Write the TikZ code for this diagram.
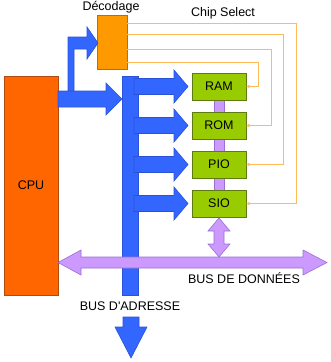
\documentclass[tikz,border=0pt]{standalone}
\usepackage{fontspec}
\usetikzlibrary{arrows.meta}
\newfontfamily\labelfont{Liberation Sans}
\definecolor{busblue}{HTML}{3366FF}
\definecolor{busblueline}{HTML}{2A52D6}
\definecolor{datapurple}{HTML}{CC99FF}
\definecolor{datapurpleline}{HTML}{9C6FD0}
\definecolor{cpuorange}{HTML}{FF6600}
\definecolor{cpuline}{HTML}{B04A10}
\definecolor{decorange}{HTML}{FF9900}
\definecolor{decline}{HTML}{B86E10}
\definecolor{memgreen}{HTML}{99CC00}
\definecolor{memline}{HTML}{5E7A10}
\definecolor{csline}{HTML}{FFBB55}
\begin{document}
\begin{tikzpicture}[x=1pt,y=-1pt,
  font=\labelfont\fontsize{12.5}{14}\selectfont,
  cpubox/.style={draw=cpuline,fill=cpuorange,line width=0.8pt,minimum width=54pt,minimum height=219pt,inner sep=0pt},
  decbox/.style={draw=decline,fill=decorange,line width=0.8pt,minimum width=30pt,minimum height=54pt,inner sep=0pt},
  membox/.style={draw=memline,fill=memgreen,line width=0.8pt,minimum width=54pt,minimum height=27pt,inner sep=0pt},
  bluearrow/.style={fill=busblue,draw=busblueline,line width=0.6pt,line join=miter},
  purplearrow/.style={fill=datapurple,draw=datapurpleline,line width=0.6pt,line join=miter},
  cswire/.style={draw=csline,line width=0.9pt,-{Stealth[length=3.5pt,width=3.5pt]}},
  lbl/.style={inner sep=0pt}]
\useasboundingbox (0,0) rectangle (330,362);

% boxes
\node[cpubox] (cpu) at (31,185.5) {CPU};
\node[decbox] (dec) at (112,42) {};
\node[lbl] (declbl) at (111,7) {Décodage};
\node[lbl] (cslbl) at (223,13) {Chip Select};

% address bus bar
\draw[bluearrow] (122,76) rectangle (138,295);
% branches to memories
\foreach \yc in {86.5,125.5,164.5,203.5}{
  \draw[bluearrow] (134,\yc-8) -- (174,\yc-8) -- (174,\yc-16.5) -- (188,\yc)
     -- (174,\yc+16.5) -- (174,\yc+8) -- (134,\yc+8) -- cycle;
}
% CPU to decoder L-arrow
\draw[bluearrow] (68,95) -- (68,37) -- (87,37) -- (87,27) -- (98,43) -- (87,59)
   -- (87,49) -- (74,49) -- (74,95) -- cycle;
% CPU to address bus arrow
\draw[bluearrow] (58,91) -- (106,91) -- (106,83) -- (122,99) -- (106,115)
   -- (106,107) -- (58,107) -- cycle;
% bottom address arrow
\draw[bluearrow] (123,317) -- (139,317) -- (139,327) -- (147,327) -- (131,358)
   -- (115,327) -- (123,327) -- cycle;
\node[lbl] (adrlbl) at (130,306) {BUS D'ADRESSE};

% purple link behind memory boxes
\draw[purplearrow] (214,90) rectangle (224,200);

% memories
\node[membox] (ram) at (219,86.5) {RAM};
\node[membox] (rom) at (219,125.5) {ROM};
\node[membox] (pio) at (219,164.5) {PIO};
\node[membox] (sio) at (219,203.5) {SIO};

% chip select wires
\path (dec.east) ++(0,-19) coordinate (cs1);
\path (dec.east) ++(0,-8) coordinate (cs2);
\path (dec.east) ++(0,7) coordinate (cs3);
\path (dec.east) ++(0,20) coordinate (cs4);
\draw[cswire] (cs1) -- (296,23) |- (sio.east);
\draw[cswire] (cs2) -- (283,34) |- (pio.east);
\draw[cswire] (cs3) -- (271,49) |- (rom.east);
\draw[cswire] (cs4) -- (258,62) |- (ram.east);

% SIO <-> data bus double arrow
\draw[purplearrow] (219,218) -- (230,231) -- (224,231) -- (224,244) -- (230,244)
   -- (219,257) -- (208,244) -- (214,244) -- (214,231) -- (208,231) -- cycle;

% data bus
\draw[purplearrow] (58,262.5) -- (81,250) -- (81,257) -- (303,257) -- (303,250)
   -- (327,262.5) -- (303,275) -- (303,268) -- (81,268) -- (81,275) -- cycle;
\node[lbl] (datalbl) at (244,278) {BUS DE DONNÉES};
\end{tikzpicture}
\end{document}
